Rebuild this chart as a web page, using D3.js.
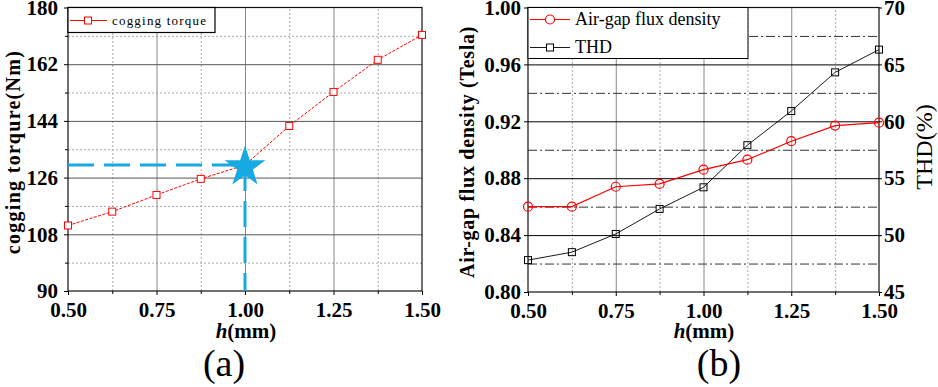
<!DOCTYPE html>
<html>
<head>
<meta charset="utf-8">
<script src="https://cdn.jsdelivr.net/npm/d3@7"></script>
<style>
  body { margin: 0; background: #fff; }
  svg { display: block; }
  text { font-family: "Liberation Serif", "Times New Roman", serif; }
</style>
</head>
<body>
<svg id="chart" width="938" height="387"></svg>
<script>
// h values (mm)
var hVals = [0.5, 0.625, 0.75, 0.875, 1.0, 1.125, 1.25, 1.375, 1.5];
// (a) cogging torque (Nm)
var cogging = [110.8, 115.2, 120.5, 125.6, 130.0, 142.4, 153.2, 163.4, 171.3];
// (b) air-gap flux density (Tesla) and THD (%)
var fluxDensity = [0.860, 0.860, 0.874, 0.876, 0.886, 0.893, 0.906, 0.917, 0.919];
var thd = [47.8, 48.5, 50.1, 52.3, 54.2, 57.9, 60.9, 64.3, 66.3];

var xTicks = [0.5, 0.75, 1.0, 1.25, 1.5];
var xMinor = [0.625, 0.875, 1.125, 1.375];
var torqueTicks = [90, 108, 126, 144, 162, 180];
var torqueMinor = [99, 117, 135, 153, 171];
var fluxTicks = [0.80, 0.84, 0.88, 0.92, 0.96, 1.00];
var fluxMinor = [0.82, 0.86, 0.90, 0.94, 0.98];
var thdTicks = [45, 50, 55, 60, 65, 70];

// marked point on (a)
var markH = 1.0, markTorque = 130;

var svg = d3.select("#chart");
var cyan = "#17a9e1";

function styleAxis(g, size, weight) {
	g.attr("font-family", null);
	g.select(".domain").remove();
	g.selectAll("text")
		.style("font-size", size + "px")
		.style("font-weight", weight || "bold")
		.attr("fill", "#000");
	g.selectAll("line").attr("stroke", "#000");
}

function grid(g, axis, stroke, dash) {
	g.call(axis);
	g.select(".domain").remove();
	g.selectAll("text").remove();
	g.selectAll("line").attr("stroke", stroke).attr("stroke-dasharray", dash || null);
}

/* ---------------- (a) ---------------- */
var xa = d3.scaleLinear().domain([0.5, 1.5]).range([68, 422]);
var ya = d3.scaleLinear().domain([90, 180]).range([291, 7.5]);
var wa = 422 - 68, ha = 291 - 7.5;

svg.append("g").attr("transform", "translate(0,291)")
	.call(g => grid(g, d3.axisBottom(xa).tickValues(xMinor).tickSize(-ha), "#aaa", "2,2"));
svg.append("g").attr("transform", "translate(68,0)")
	.call(g => grid(g, d3.axisLeft(ya).tickValues(torqueMinor).tickSize(-wa), "#aaa", "2,2"));
svg.append("g").attr("transform", "translate(0,291)")
	.call(g => grid(g, d3.axisBottom(xa).tickValues([0.75, 1.0, 1.25]).tickSize(-ha), "#888"));
svg.append("g").attr("transform", "translate(68,0)")
	.call(g => grid(g, d3.axisLeft(ya).tickValues([108, 126, 144, 162]).tickSize(-wa), "#555"));

// frame
svg.append("rect").attr("x", 68).attr("y", 7.5).attr("width", wa).attr("height", ha)
	.attr("fill", "none").attr("stroke", "#111").attr("stroke-width", 1.2);

// axes
svg.append("g").attr("transform", "translate(0,291)")
	.call(d3.axisBottom(xa).tickValues(xTicks).tickFormat(d3.format(".2f")).tickSize(4).tickPadding(7))
	.call(g => styleAxis(g, 21));
svg.append("g").attr("transform", "translate(0,291)")
	.call(d3.axisBottom(xa).tickValues(xMinor).tickFormat("").tickSize(3))
	.call(g => styleAxis(g, 21));
svg.append("g").attr("transform", "translate(68,0)")
	.call(d3.axisLeft(ya).tickValues(torqueTicks).tickSize(4).tickPadding(6))
	.call(g => styleAxis(g, 21));
svg.append("g").attr("transform", "translate(68,0)")
	.call(d3.axisLeft(ya).tickValues(torqueMinor).tickFormat("").tickSize(3))
	.call(g => styleAxis(g, 21));

// dashed marker lines
svg.append("line")
	.attr("x1", xa(0.5)).attr("x2", xa(markH))
	.attr("y1", ya(markTorque)).attr("y2", ya(markTorque))
	.attr("stroke", cyan).attr("stroke-width", 3).attr("stroke-dasharray", "26,10");
svg.append("line")
	.attr("x1", xa(markH)).attr("x2", xa(markH))
	.attr("y1", ya(markTorque)).attr("y2", ya(90))
	.attr("stroke", cyan).attr("stroke-width", 3).attr("stroke-dasharray", "26,10");

// cogging line
svg.append("path").datum(hVals)
	.attr("fill", "none").attr("stroke", "#f00").attr("stroke-width", 1)
	.attr("stroke-dasharray", "3,1.5")
	.attr("d", d3.line().x(d => xa(d)).y((d, i) => ya(cogging[i])));
svg.selectAll(".sqA").data(hVals.filter(d => d !== markH)).enter()
	.append("rect").attr("class", "sqA")
	.attr("x", d => xa(d) - 3.5).attr("y", d => ya(cogging[hVals.indexOf(d)]) - 3.5)
	.attr("width", 7).attr("height", 7)
	.attr("fill", "#fff").attr("stroke", "#f00").attr("stroke-width", 1);

// star
svg.append("path")
	.attr("d", d3.symbol().type(d3.symbolStar).size(520)())
	.attr("transform", "translate(" + xa(markH) + "," + (ya(markTorque) + 2) + ")")
	.attr("fill", cyan);

// legend (a)
svg.append("rect").attr("x", 68).attr("y", 7.5).attr("width", 147).attr("height", 25)
	.attr("fill", "#fff").attr("stroke", "#000").attr("stroke-width", 1.2);
svg.append("line").attr("x1", 70).attr("x2", 107).attr("y1", 20.5).attr("y2", 20.5)
	.attr("stroke", "#f00").attr("stroke-width", 1);
svg.append("rect").attr("x", 84.5).attr("y", 17).attr("width", 7).attr("height", 7)
	.attr("fill", "#fff").attr("stroke", "#f00");
svg.append("text").attr("x", 112).attr("y", 25)
	.style("font-size", "13px").style("letter-spacing", "1.2px")
	.text("cogging torque");

// axis titles (a)
svg.append("text").attr("transform", "translate(20,152) rotate(-90)")
	.attr("text-anchor", "middle").style("font-size", "20px").style("font-weight", "bold")
	.style("letter-spacing", "1.3px")
	.text("cogging torqure(Nm)");
var hxa = svg.append("text").attr("x", 246).attr("y", 338).attr("text-anchor", "middle")
	.style("font-size", "21px").style("font-weight", "bold");
hxa.append("tspan").style("font-style", "italic").text("h");
hxa.append("tspan").text("(mm)");
svg.append("text").attr("x", 224).attr("y", 376).attr("text-anchor", "middle")
	.style("font-size", "38px").text("(a)");

/* ---------------- (b) ---------------- */
var xb = d3.scaleLinear().domain([0.5, 1.5]).range([528, 879]);
var yb = d3.scaleLinear().domain([0.80, 1.00]).range([292, 7.5]);
var yt = d3.scaleLinear().domain([45, 70]).range([292, 7.5]);
var wb = 879 - 528, hb = 292 - 7.5;

svg.append("g").attr("transform", "translate(0,292)")
	.call(g => grid(g, d3.axisBottom(xb).tickValues(xMinor).tickSize(-hb), "#aaa", "2,2"));
svg.append("g").attr("transform", "translate(0,292)")
	.call(g => grid(g, d3.axisBottom(xb).tickValues([0.75, 1.0, 1.25]).tickSize(-hb), "#888"));
svg.append("g").attr("transform", "translate(528,0)")
	.call(g => grid(g, d3.axisLeft(yb).tickValues(fluxMinor).tickSize(-wb), "#333", "9,3,2,3"));
svg.append("g").attr("transform", "translate(528,0)")
	.call(g => grid(g, d3.axisLeft(yb).tickValues([0.84, 0.88, 0.92, 0.96]).tickSize(-wb), "#000"));

svg.append("rect").attr("x", 528).attr("y", 7.5).attr("width", wb).attr("height", hb)
	.attr("fill", "none").attr("stroke", "#111").attr("stroke-width", 1.2);

svg.append("g").attr("transform", "translate(0,292)")
	.call(d3.axisBottom(xb).tickValues(xTicks).tickFormat(d3.format(".2f")).tickSize(4).tickPadding(7))
	.call(g => styleAxis(g, 21));
svg.append("g").attr("transform", "translate(0,292)")
	.call(d3.axisBottom(xb).tickValues(xMinor).tickFormat("").tickSize(3))
	.call(g => styleAxis(g, 21));
svg.append("g").attr("transform", "translate(528,0)")
	.call(d3.axisLeft(yb).tickValues(fluxTicks).tickFormat(d3.format(".2f")).tickSize(4).tickPadding(3))
	.call(g => styleAxis(g, 21));
svg.append("g").attr("transform", "translate(879,0)")
	.call(d3.axisRight(yt).tickValues(thdTicks).tickSize(3).tickPadding(2))
	.call(g => styleAxis(g, 21));

// THD line
svg.append("path").datum(hVals)
	.attr("fill", "none").attr("stroke", "#000").attr("stroke-width", 0.9)
	.attr("d", d3.line().x(d => xb(d)).y((d, i) => yt(thd[i])));
svg.selectAll(".sqB").data(hVals).enter()
	.append("rect").attr("class", "sqB")
	.attr("x", d => xb(d) - 3.5).attr("y", (d, i) => yt(thd[i]) - 3.5)
	.attr("width", 7).attr("height", 7)
	.attr("fill", "none").attr("stroke", "#000").attr("stroke-width", 1);

// flux line
svg.append("path").datum(hVals)
	.attr("fill", "none").attr("stroke", "#f00").attr("stroke-width", 1.2)
	.attr("d", d3.line().x(d => xb(d)).y((d, i) => yb(fluxDensity[i])));
svg.selectAll(".cB").data(hVals).enter()
	.append("circle").attr("class", "cB")
	.attr("cx", d => xb(d)).attr("cy", (d, i) => yb(fluxDensity[i]))
	.attr("r", 4.5)
	.attr("fill", "none").attr("stroke", "#f00").attr("stroke-width", 1.2);

// legend (b)
svg.append("rect").attr("x", 528).attr("y", 7.5).attr("width", 220).attr("height", 51)
	.attr("fill", "#fff").attr("stroke", "#000").attr("stroke-width", 1);
svg.append("line").attr("x1", 530).attr("x2", 570).attr("y1", 19.5).attr("y2", 19.5)
	.attr("stroke", "#f00").attr("stroke-width", 1.2);
svg.append("circle").attr("cx", 550).attr("cy", 19.5).attr("r", 4.5)
	.attr("fill", "#fff").attr("stroke", "#f00").attr("stroke-width", 1.2);
svg.append("text").attr("x", 575).attr("y", 25).style("font-size", "18px")
	.text("Air-gap flux density");
svg.append("line").attr("x1", 530).attr("x2", 570).attr("y1", 47.5).attr("y2", 47.5)
	.attr("stroke", "#000").attr("stroke-width", 0.9);
svg.append("rect").attr("x", 546.5).attr("y", 44).attr("width", 7).attr("height", 7)
	.attr("fill", "#fff").attr("stroke", "#000");
svg.append("text").attr("x", 575).attr("y", 53).style("font-size", "18px")
	.text("THD");

// axis titles (b)
svg.append("text").attr("transform", "translate(474,152) rotate(-90)")
	.attr("text-anchor", "middle").style("font-size", "20px").style("font-weight", "bold")
	.style("letter-spacing", "0.7px")
	.text("Air-gap flux density (Tesla)");
svg.append("text").attr("transform", "translate(932,147) rotate(-90)")
	.attr("text-anchor", "middle").style("font-size", "24px")
	.text("THD(%)");
var hxb = svg.append("text").attr("x", 704).attr("y", 338).attr("text-anchor", "middle")
	.style("font-size", "21px").style("font-weight", "bold");
hxb.append("tspan").style("font-style", "italic").text("h");
hxb.append("tspan").text("(mm)");
svg.append("text").attr("x", 719).attr("y", 376).attr("text-anchor", "middle")
	.style("font-size", "38px").text("(b)");
</script>
</body>
</html>
